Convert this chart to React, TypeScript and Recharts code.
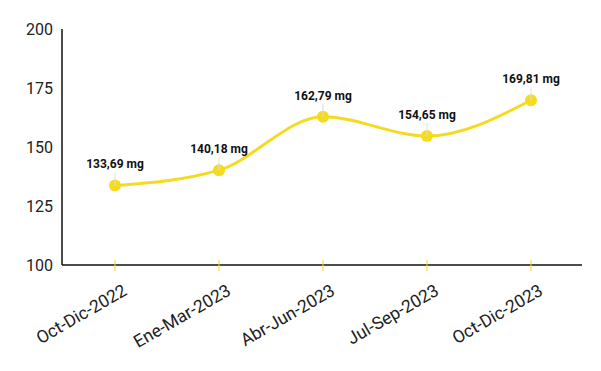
import React from "react";
import { LineChart, Line, XAxis, YAxis, LabelList } from "recharts";

const categories = ["Oct-Dic-2022", "Ene-Mar-2023", "Abr-Jun-2023", "Jul-Sep-2023", "Oct-Dic-2023"];
const values = [133.69, 140.18, 162.79, 154.65, 169.81];
const yTicks = [100, 125, 150, 175, 200];

const data = categories.map((c, i) => ({ name: c, value: values[i] }));

const YELLOW = "#F5DA22";
const FONT = "Roboto, 'Noto Sans', sans-serif";

const XTick = (props: any) => {
  const { x, y, payload } = props;
  const axisY = y - 4;
  const tx = x + 13;
  const ty = axisY + 29;
  return (
    <g>
      <line x1={x} x2={x} y1={axisY - 5} y2={axisY + 6} stroke={YELLOW} strokeWidth={1} />
      <text
        x={tx}
        y={ty}
        textAnchor="end"
        fontSize={17.5}
        fontFamily={FONT}
        fill="#222"
        transform={`rotate(-30, ${tx}, ${ty})`}
      >
        {payload.value}
      </text>
    </g>
  );
};

const fmt = (v: number) => v.toFixed(2).replace(".", ",") + " mg";

const PointLabel = (props: any) => {
  const { x, y, value } = props;
  return (
    <g>
      <line x1={x} x2={x} y1={y - 13} y2={y} stroke="#ddd" strokeWidth={1} />
      <text x={x} y={y - 17} textAnchor="middle" fontSize={12} fontWeight="bold" fontFamily={FONT} fill="#111">
        {fmt(value)}
      </text>
    </g>
  );
};

export default function App() {
  return (
    <div style={{ position: "absolute", left: 0, top: 0, width: 601, height: 371, background: "#fff" }}>
      <LineChart width={601} height={371} data={data} margin={{ top: 29, right: 19, bottom: 0, left: 0 }}>
        <XAxis
          dataKey="name"
          height={106}
          padding={{ left: 53, right: 51 }}
          axisLine={{ stroke: "#111", strokeWidth: 1.5 }}
          tickLine={false}
          tickSize={0}
          tickMargin={4}
          tick={<XTick />}
          interval={0}
        />
        <YAxis
          domain={[100, 200]}
          ticks={yTicks}
          width={62}
          axisLine={{ stroke: "#111", strokeWidth: 1.5 }}
          tickLine={false}
          tickSize={0}
          tickMargin={9}
          tick={{ fontSize: 16, fill: "#222", fontFamily: FONT }}
        />
        <Line
          type="monotone"
          dataKey="value"
          stroke={YELLOW}
          strokeWidth={3}
          dot={{ r: 6, fill: YELLOW, stroke: YELLOW, strokeWidth: 0 }}
          isAnimationActive={false}
        >
          <LabelList dataKey="value" content={<PointLabel />} />
        </Line>
      </LineChart>
    </div>
  );
}
